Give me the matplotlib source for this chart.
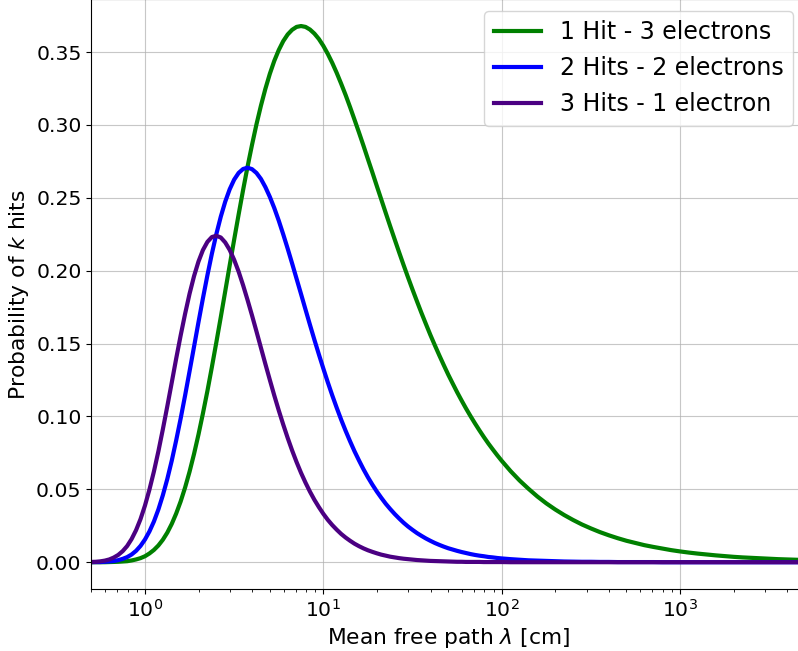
import matplotlib
matplotlib.use("Agg")
import matplotlib.pyplot as plt
import numpy as np

# mean free path [cm]
mfp = [0.5, 0.5309, 0.5623, 0.5957, 0.631, 0.6683, 0.7079, 0.7499, 0.7943,
       0.8414, 0.8913, 0.9441, 1.0, 1.059, 1.122, 1.189, 1.259, 1.334, 1.413,
       1.496, 1.585, 1.679, 1.778, 1.884, 1.995, 2.113, 2.239, 2.371, 2.512,
       2.661, 2.818, 2.985,
       3.162, 3.35, 3.548, 3.758, 3.981, 4.217, 4.467, 4.732, 5.012, 5.309,
       5.623, 5.957, 6.31, 6.683, 7.079, 7.499, 7.943, 8.414, 8.913, 9.441,
       10.0, 10.59, 11.22, 11.89, 12.59, 13.34, 14.13, 14.96, 15.85, 16.79,
       17.78, 18.84,
       19.95, 21.13, 22.39, 23.71, 25.12, 26.61, 28.18, 29.85, 31.62, 33.5,
       35.48, 37.58, 39.81, 42.17, 44.67, 47.32, 50.12, 53.09, 56.23, 59.57,
       63.1, 66.83, 70.79, 74.99, 79.43, 84.14, 89.13, 94.41, 100.0, 112.2,
       125.9, 141.3,
       158.5, 177.8, 199.5, 223.9, 251.2, 281.8, 316.2, 354.8, 398.1, 446.7,
       501.2, 562.3, 631, 707.9, 794.3, 891.3, 1000, 1122, 1259, 1413, 1585,
       1778, 1995, 2239, 2512, 2818, 3162, 3548, 3981, 4467, 5012]

# probabilities below are in units of 1e-4
one_hit = [0, 0, 0, 0, 1, 2, 3, 5, 7, 12, 19, 28, 41, 60, 84, 115, 154, 203,
           263, 334, 417, 513, 621, 743, 876, 1021, 1175, 1338, 1508, 1682,
           1859, 2037,
           2213, 2386, 2553, 2713, 2863, 3004, 3132, 3248, 3351, 3440, 3514,
           3575, 3621, 3653, 3673, 3679, 3673, 3655, 3627, 3590, 3543, 3488,
           3426, 3357, 3283, 3205, 3122, 3036, 2948, 2858, 2766, 2674,
           2581, 2489, 2396, 2305, 2215, 2126, 2039, 1954, 1871, 1790, 1711,
           1635, 1560, 1489, 1420, 1353, 1288, 1227, 1167, 1110, 1055, 1003,
           953, 905, 859, 815, 774, 734, 696, 625, 561, 504,
           451, 404, 362, 324, 290, 259, 232, 207, 185, 165, 147, 132, 117,
           105, 94, 83, 74, 66, 59, 53, 47, 42, 37, 33, 30, 27, 24, 21, 19,
           17, 15]

two_hits = [0, 1, 1, 3, 5, 8, 14, 23, 35, 53, 78, 112, 156, 211, 279, 362,
            459, 571, 697, 836, 986, 1145, 1310, 1479, 1647, 1811, 1969, 2116,
            2251, 2371, 2474, 2559,
            2625, 2671, 2698, 2707, 2697, 2671, 2630, 2574, 2507, 2430, 2344,
            2250, 2152, 2050, 1945, 1840, 1734, 1629, 1526, 1426, 1329, 1235,
            1145, 1059, 978, 901, 829, 761, 698, 638, 583, 532,
            485, 442, 401, 365, 331, 300, 271, 245, 222, 200, 181, 163, 147,
            132, 119, 107, 96, 87, 78, 70, 63, 56, 50, 45, 41, 36, 33, 29, 26,
            21, 17, 13,
            11, 9, 7, 5, 4, 3, 3, 2, 2, 1, 1, 1, 1, 1, 0, 0, 0, 0, 0, 0, 0, 0,
            0, 0, 0, 0, 0, 0, 0, 0, 0]

three_hits = [2, 3, 6, 11, 19, 32, 50, 76, 111, 159, 220, 296, 389, 498, 622,
              761, 911, 1070, 1233, 1397, 1556, 1705, 1842, 1963, 2063, 2142,
              2198, 2231, 2240, 2228, 2194, 2143,
              2075, 1994, 1901, 1800, 1694, 1584, 1472, 1360, 1251, 1144, 1042,
              945, 853, 767, 687, 613, 546, 484, 428, 378, 332, 291, 255, 223,
              194, 169, 147, 127, 110, 95, 82, 71,
              61, 52, 45, 38, 33, 28, 24, 21, 18, 15, 13, 11, 9, 8, 7, 6, 5, 4,
              3, 3, 2, 2, 2, 2, 1, 1, 1, 1, 1, 0, 0, 0,
              0, 0, 0, 0, 0, 0, 0, 0, 0, 0, 0, 0, 0, 0, 0, 0, 0, 0, 0, 0, 0, 0,
              0, 0, 0, 0, 0, 0, 0, 0, 0]

labels = ["1 Hit - 3 electrons", "2 Hits - 2 electrons", "3 Hits - 1 electron"]
colors = ["green", "blue", "indigo"]

fig = plt.figure(figsize=(7.98, 6.51), dpi=100)
ax = fig.add_axes([0.1144, 0.0952, 0.894, 0.906])

for p, lab, c in zip([one_hit, two_hits, three_hits], labels, colors):
    ax.plot(mfp, np.array(p) / 1e4, color=c, lw=3, label=lab)

ax.set_xscale("log")
ax.set_xlim(0.5, 5000)
ax.grid(True, which="major", color="#b0b0b0", lw=0.8, alpha=0.7)
ax.tick_params(labelsize=14.7)
ax.set_xlabel(r"Mean free path $\lambda$ [cm]", fontsize=15.7)
ax.set_ylabel(r"Probability of $k$ hits", fontsize=15.7)
ax.legend(loc="upper right", fontsize=17)

fig.savefig("out.png", dpi=100)
